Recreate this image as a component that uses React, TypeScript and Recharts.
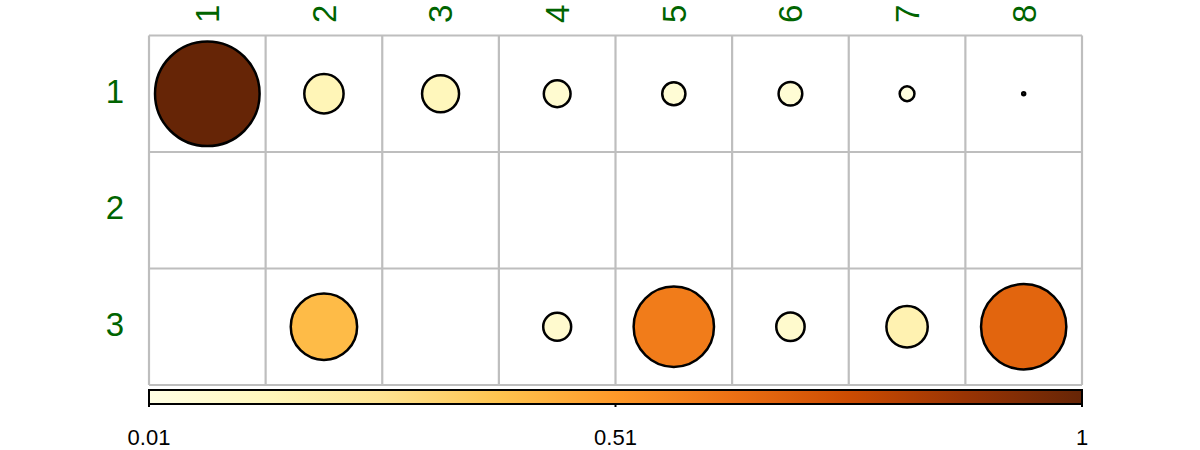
import React from "react";
import { Cell, ReferenceLine, Scatter, ScatterChart, XAxis, YAxis, ZAxis } from "recharts";

const colLabels = ["1", "2", "3", "4", "5", "6", "7", "8"];
const rowLabels = ["1", "2", "3"];

// one array per row, null = empty cell
const row1 = [1, 0.149, 0.133, 0.074, 0.058, 0.06, 0.029, 0.01];
const row2 = [null, null, null, null, null, null, null, null];
const row3 = [null, 0.408, null, 0.08, 0.594, 0.082, 0.164, 0.668];
const rowValues = [row1, row2, row3];

const valueMin = 0.01;
const valueMax = 1;
const legendTicks = ["0.01", "0.51", "1"];

// YlOrBr
const palette = ["#ffffe5", "#fff7bc", "#fee391", "#fec44f", "#fe9929", "#ec7014", "#cc4c02", "#993404", "#662506"];

const W = 1200;
const H = 450;
const LEFT = 149;
const RIGHT = 1082;
const TOP = 35.5;
const BOTTOM = 385;
const LABEL_GREEN = "#006400";
const FONT = "'Liberation Sans', Arial, sans-serif";

function hexToRgb(h: string) {
  return [1, 3, 5].map((i) => parseInt(h.slice(i, i + 2), 16));
}

function colorFor(v: number) {
  const t = Math.max(0, Math.min(1, (v - valueMin) / (valueMax - valueMin)));
  const pos = t * (palette.length - 1);
  const i = Math.min(Math.floor(pos), palette.length - 2);
  const f = pos - i;
  const a = hexToRgb(palette[i]);
  const b = hexToRgb(palette[i + 1]);
  const c = a.map((x, k) => Math.round(x + (b[k] - x) * f));
  return `rgb(${c[0]},${c[1]},${c[2]})`;
}

const points = rowValues.flatMap((vals, r) =>
  vals
    .map((v, c) => ({ col: c + 1, row: r + 1, value: v }))
    .filter((p) => p.value !== null)
);

const gridX = colLabels.map((_, i) => i + 0.5).concat([colLabels.length + 0.5]);
const gridY = rowLabels.map((_, i) => i + 0.5).concat([rowLabels.length + 0.5]);

const maxR = 52.3;

function renderColTick(props: any) {
  const { x, payload } = props;
  return (
    <text
      key={`c${payload.value}`}
      x={x}
      y={23}
      dy="0.36em"
      transform={`rotate(-90, ${x}, 23)`}
      textAnchor="start"
      fill={LABEL_GREEN}
      fontSize={33}
      fontFamily={FONT}
    >
      {colLabels[payload.value - 1]}
    </text>
  );
}

function renderRowTick(props: any) {
  const { y, payload } = props;
  return (
    <text key={`r${payload.value}`} x={124} y={y} dy={9} textAnchor="end" fill={LABEL_GREEN} fontSize={33} fontFamily={FONT}>
      {rowLabels[payload.value - 1]}
    </text>
  );
}

function ColorBar() {
  const barTop = 390;
  const barH = 14;
  const xOf = (i: number) => LEFT + (i / (legendTicks.length - 1)) * (RIGHT - LEFT);
  return (
    <svg width={W} height={H} style={{ position: "absolute", left: 0, top: 0, pointerEvents: "none" }}>
      <defs>
        <linearGradient id="ylorbr" x1="0" y1="0" x2="1" y2="0">
          {palette.map((c, i) => (
            <stop key={i} offset={`${(i / (palette.length - 1)) * 100}%`} stopColor={c} />
          ))}
        </linearGradient>
      </defs>
      <rect x={LEFT} y={barTop} width={RIGHT - LEFT} height={barH} fill="url(#ylorbr)" stroke="#000" strokeWidth={2} />
      {legendTicks.map((t, i) => (
        <g key={t}>
          <line x1={xOf(i)} x2={xOf(i)} y1={barTop + barH} y2={barTop + barH + 3} stroke="#000" strokeWidth={2} />
          <text x={xOf(i)} y={445} textAnchor="middle" fontSize={22} fontFamily={FONT} fill="#000">
            {t}
          </text>
        </g>
      ))}
    </svg>
  );
}

export default function App() {
  return (
    <div style={{ position: "absolute", left: 0, top: 0, width: W, height: H, background: "#fff" }}>
      <ScatterChart
        width={W}
        height={H}
        margin={{ top: TOP - 1, right: W - RIGHT, bottom: H - BOTTOM, left: LEFT - 1 }}
      >
        <XAxis
          type="number"
          dataKey="col"
          orientation="top"
          domain={[0.5, colLabels.length + 0.5]}
          ticks={colLabels.map((_, i) => i + 1)}
          height={1}
          axisLine={false}
          tickLine={false}
          tick={renderColTick}
          interval={0}
        />
        <YAxis
          type="number"
          dataKey="row"
          reversed
          domain={[0.5, rowLabels.length + 0.5]}
          ticks={rowLabels.map((_, i) => i + 1)}
          width={1}
          axisLine={false}
          tickLine={false}
          tick={renderRowTick}
          interval={0}
        />
        <ZAxis type="number" dataKey="value" domain={[valueMin, valueMax]} range={[7, Math.PI * maxR * maxR]} />
        {gridX.map((x) => (
          <ReferenceLine key={`gx${x}`} x={x} stroke="#bebebe" strokeWidth={2.2} ifOverflow="visible" />
        ))}
        {gridY.map((y) => (
          <ReferenceLine key={`gy${y}`} y={y} stroke="#bebebe" strokeWidth={2.2} ifOverflow="visible" />
        ))}
        <Scatter data={points} shape="circle" stroke="#000" strokeWidth={2.5} isAnimationActive={false}>
          {points.map((p, i) => (
            <Cell key={i} fill={colorFor(p.value as number)} stroke="#000" strokeWidth={2.5} />
          ))}
        </Scatter>
      </ScatterChart>
      <ColorBar />
    </div>
  );
}
